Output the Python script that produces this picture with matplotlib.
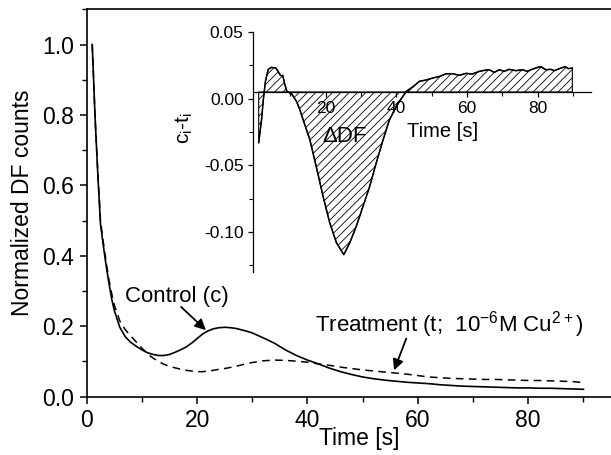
import matplotlib
matplotlib.use("Agg")
import matplotlib.pyplot as plt
from matplotlib.ticker import MultipleLocator, FixedLocator

plt.rcParams['font.family'] = ['Liberation Sans', 'DejaVu Sans']
plt.rcParams['axes.unicode_minus'] = False
plt.rcParams['mathtext.default'] = 'regular'
plt.rcParams['hatch.linewidth'] = 0.6

# ---------------- data ----------------
time_s = [1, 1.5, 2, 2.5, 3, 3.5, 4, 4.5, 5, 6, 7, 8, 9, 10, 11, 12, 13, 14, 15, 16,
          17, 18, 19, 20, 21, 22, 23, 24, 25, 26, 27, 28, 29, 30, 32, 34, 36, 38, 40,
          42, 44, 46, 48, 50, 52, 54, 56, 58, 60, 62, 64, 66, 68, 70, 72, 74, 76, 78,
          80, 82, 84, 86, 88, 90]
control = [1.0, 0.80, 0.635, 0.49, 0.43, 0.375, 0.325, 0.28, 0.245, 0.197, 0.17, 0.154,
           0.143, 0.133, 0.125, 0.12, 0.117, 0.117, 0.12, 0.126, 0.133, 0.141, 0.152,
           0.165, 0.178, 0.187, 0.193, 0.196, 0.197, 0.196, 0.194, 0.19, 0.186, 0.181,
           0.167, 0.152, 0.133, 0.117, 0.104, 0.093, 0.081, 0.071, 0.063, 0.056, 0.051,
           0.047, 0.044, 0.041, 0.039, 0.037, 0.034, 0.032, 0.030, 0.029, 0.028, 0.027,
           0.026, 0.025, 0.025, 0.024, 0.024, 0.023, 0.022, 0.021]
treatment = [1.0, 0.80, 0.64, 0.50, 0.44, 0.385, 0.335, 0.295, 0.26, 0.215, 0.19, 0.172,
             0.155, 0.138, 0.122, 0.11, 0.10, 0.092, 0.086, 0.082, 0.078, 0.075, 0.073,
             0.071, 0.071, 0.073, 0.075, 0.078, 0.080, 0.083, 0.086, 0.090, 0.094, 0.097,
             0.102, 0.104, 0.103, 0.101, 0.098, 0.093, 0.089, 0.084, 0.080, 0.076, 0.073,
             0.070, 0.067, 0.064, 0.060, 0.056, 0.054, 0.052, 0.051, 0.050, 0.049, 0.049,
             0.048, 0.047, 0.046, 0.046, 0.045, 0.044, 0.043, 0.040]

# inset: c_i - t_i
diff_time = [1.0, 1.8, 2.3, 2.9, 3.7, 4.6, 5.8, 6.5, 7.0, 7.5, 7.8, 8.4, 9.0, 10.3, 11.7,
             12.6, 13.6, 15.5, 17.3, 19.2, 21.1, 23.0, 25.1, 26.8, 28.6, 30.5, 32.4, 34.3,
             36.2, 38.0, 39.9, 41.8, 42.8, 44.7, 46.5, 48.4, 50.3, 52.2, 54.1, 56.0, 57.8,
             59.7, 61.5, 63.5, 65.8, 66.3, 67.7, 69.1, 70.5, 71.9, 73.8, 75.7, 77.0, 78.1,
             80.0, 80.9, 82.3, 83.7, 84.7, 86.6, 87.8, 88.7, 89.8]
diff_val = [-0.033, -0.016, -0.001, 0.013, 0.022, 0.0235, 0.023, 0.0205, 0.018, 0.017,
            0.0175, 0.0105, 0.0055, 0.0037, -0.002, -0.008, -0.016, -0.031, -0.051, -0.073,
            -0.093, -0.108, -0.117, -0.108, -0.096, -0.081, -0.066, -0.048, -0.031, -0.016,
            -0.006, 0.0017, 0.0055, 0.009, 0.013, 0.014, 0.0155, 0.0167, 0.0187, 0.0187,
            0.0175, 0.019, 0.0185, 0.0205, 0.0217, 0.0217, 0.0197, 0.0217, 0.0205, 0.022,
            0.021, 0.0217, 0.0205, 0.0217, 0.0235, 0.024, 0.0217, 0.022, 0.021, 0.023,
            0.024, 0.0225, 0.023]
zero_line = 0.005  # where the inset's time axis is drawn

# ---------------- figure ----------------
W, H = 611, 455
fig = plt.figure(figsize=(W / 100, H / 100), dpi=100)

# main axes
ax = fig.add_axes([86.7 / W, (H - 396.7) / H, (W - 86.7) / W, (396.7 - 9.3) / H])
ax.plot(time_s, control, color='black', lw=1.2)
ax.plot(time_s, treatment, color='black', lw=1.1, linestyle=(0, (5, 3.5)))
ax.set_xlim(0, 95)
ax.set_ylim(0, 1.1)
ax.spines['right'].set_visible(False)
for s in ('top', 'left', 'bottom'):
    ax.spines[s].set_linewidth(1.2)
ax.xaxis.set_major_locator(FixedLocator([0, 20, 40, 60, 80]))
ax.xaxis.set_minor_locator(FixedLocator([10, 30, 50, 70, 90]))
ax.yaxis.set_major_locator(MultipleLocator(0.2))
ax.yaxis.set_minor_locator(MultipleLocator(0.1))
ax.yaxis.set_major_formatter(plt.FormatStrFormatter('%.1f'))
ax.tick_params(which='major', direction='out', length=5, width=1.1, labelsize=16.5, pad=4)
ax.tick_params(which='minor', direction='out', length=3.5, width=1.0)
ax.tick_params(top=False, right=False, which='both')
ax.set_xlabel('Time [s]', fontsize=16.5)
ax.xaxis.set_label_coords(0.519, -0.079)
ax.set_ylabel('Normalized DF counts', fontsize=16.5, labelpad=6)

ax.annotate('', xy=(21.6, 0.189), xytext=(17.1, 0.255),
            arrowprops=dict(arrowstyle='-|>', color='black', lw=1.3,
                            mutation_scale=16, shrinkA=0, shrinkB=0))
ax.text(16.3, 0.27, 'Control (c)', fontsize=16, ha='center', va='baseline')
ax.annotate('', xy=(55.7, 0.075), xytext=(57.9, 0.165),
            arrowprops=dict(arrowstyle='-|>', color='black', lw=1.3,
                            mutation_scale=16, shrinkA=0, shrinkB=0))
ax.text(41.3, 0.184, r'Treatment (t;  10$^{-6}$M Cu$^{2+}$)', fontsize=16,
        ha='left', va='baseline')

# inset axes
ax_in = fig.add_axes([252.7 / W, (H - 272) / H, 338 / W, 240 / H])
ax_in.patch.set_alpha(0)
ax_in.fill_between(diff_time, diff_val, zero_line, facecolor='none', edgecolor='black',
                   hatch='////', linewidth=0.8)
ax_in.plot(diff_time, diff_val, color='black', lw=1.1)
ax_in.set_xlim(-0.7, 95)
ax_in.set_ylim(-0.13, 0.05)
ax_in.spines['top'].set_visible(False)
ax_in.spines['right'].set_visible(False)
ax_in.spines['bottom'].set_position(('data', zero_line))
ax_in.spines['left'].set_linewidth(0.9)
ax_in.spines['bottom'].set_linewidth(0.9)
ax_in.xaxis.set_major_locator(FixedLocator([20, 40, 60, 80]))
ax_in.xaxis.set_minor_locator(FixedLocator([10, 30, 50, 70, 90]))
ax_in.yaxis.set_major_locator(MultipleLocator(0.05))
ax_in.yaxis.set_minor_locator(MultipleLocator(0.025))
ax_in.yaxis.set_major_formatter(plt.FormatStrFormatter('%.2f'))
ax_in.tick_params(which='major', direction='out', length=3.5, width=0.9, labelsize=12.5, pad=3)
ax_in.tick_params(which='minor', direction='out', length=3, width=0.8)
ax_in.set_xlabel('Time [s]', fontsize=14.5)
ax_in.xaxis.set_label_coords(0.563, 0.625)
ax_in.set_ylabel(r'c$_i$-t$_i$', fontsize=15)
ax_in.yaxis.set_label_coords(-0.17, 0.6)
ax_in.text(25.3, -0.0285, 'ΔDF', fontsize=16, ha='center', va='center')

fig.savefig('out.png', dpi=100)
